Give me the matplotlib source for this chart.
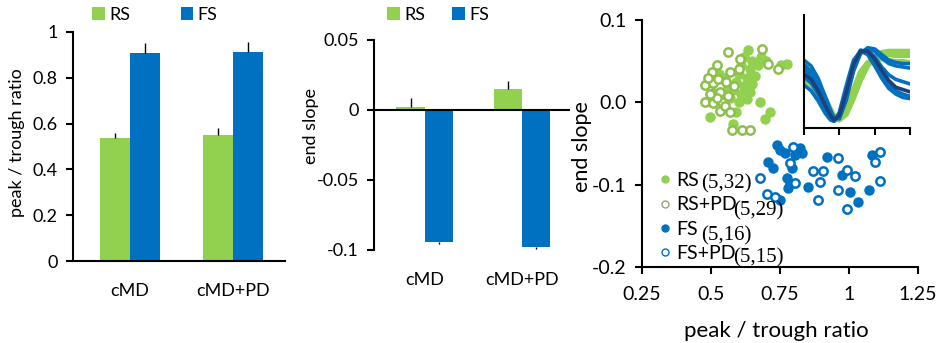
import numpy as np
import matplotlib
matplotlib.use('Agg')
import matplotlib.pyplot as plt
from matplotlib.lines import Line2D

plt.rcParams['font.family'] = ['Lato', 'DejaVu Sans']

GREEN = '#92d050'
BLUE = '#0070c0'

# ---- bar data ----
groups = ['cMD', 'cMD+PD']
ratio_rs = [0.537, 0.55]
ratio_rs_err = [0.024, 0.03]
ratio_fs = [0.908, 0.913]
ratio_fs_err = [0.044, 0.043]
slope_rs = [0.002, 0.015]
slope_rs_err = [0.0065, 0.006]
slope_fs = [-0.094, -0.098]
slope_fs_err = [0.0015, 0.001]

# ---- scatter data (peak/trough ratio, end slope) ----
rs_x = [0.634, 0.62, 0.65, 0.61, 0.64, 0.67, 0.60, 0.63, 0.66, 0.59, 0.62, 0.65, 0.58, 0.61, 0.64, 0.57,
        0.60, 0.63, 0.55, 0.56, 0.774, 0.755, 0.678, 0.714, 0.696, 0.496, 0.58, 0.59, 0.53, 0.68, 0.70, 0.545]
rs_y = [0.063, 0.055, 0.05, 0.045, 0.04, 0.045, 0.035, 0.03, 0.032, 0.025, 0.02, 0.022, 0.015, 0.01, 0.012, 0.005,
        0.0, 0.004, 0.03, 0.018, 0.047, 0.045, 0.0, -0.012, -0.02, -0.018, -0.026, -0.012, 0.035, 0.055, 0.05, 0.008]
rspd_x = [0.563, 0.684, 0.605, 0.743, 0.707, 0.502, 0.569, 0.478, 0.508, 0.508, 0.533, 0.478, 0.508, 0.54, 0.533,
          0.576, 0.612, 0.641, 0.52, 0.49, 0.555, 0.52, 0.56, 0.495, 0.55, 0.585, 0.60, 0.57, 0.525]
rspd_y = [0.061, 0.065, 0.053, 0.041, 0.047, 0.037, 0.037, 0.021, 0.024, 0.011, 0.012, 0.0, -0.001, 0.0, -0.01,
          -0.034, -0.034, -0.034, 0.045, 0.03, 0.025, 0.005, 0.008, 0.01, -0.005, 0.02, 0.04, -0.012, 0.028]
fs_x = [0.738, 0.75, 0.768, 0.822, 0.804, 0.829, 0.707, 0.725, 0.792, 0.919, 1.082, 0.973, 0.774, 0.786,
        0.851, 0.779, 1.004, 1.072, 0.75, 1.033]
fs_y = [-0.052, -0.058, -0.062, -0.056, -0.064, -0.062, -0.072, -0.08, -0.08, -0.066, -0.064, -0.088, -0.092,
        -0.098, -0.103, -0.104, -0.109, -0.107, -0.119, -0.121]
fspd_x = [0.797, 0.786, 0.87, 0.906, 0.96, 1.112, 1.094, 0.991, 1.022, 0.677, 0.804, 0.895, 0.96, 1.112,
          0.702, 0.732, 0.888, 0.991]
fspd_y = [-0.054, -0.074, -0.084, -0.084, -0.068, -0.06, -0.072, -0.082, -0.09, -0.092, -0.098, -0.097, -0.107,
          -0.095, -0.111, -0.115, -0.119, -0.129]
legend_labels = ['RS', 'RS+PD', 'FS', 'FS+PD']
n_labels = ['(5,32)', '(5,29)', '(5,16)', '(5,15)']

# ---- inset waveforms ----
wave_t = [0, 0.2, 0.4, 0.6, 0.75, 0.85, 1.0, 1.2, 1.4, 1.6, 1.8, 2.0, 2.2, 2.4, 2.6, 2.8, 3.0]
green_waves = [
    [0.55, 0.50, 0.40, 0.27, 0.17, 0.11, 0.07, 0.12, 0.26, 0.42, 0.55, 0.63, 0.67, 0.68, 0.68, 0.68, 0.68],
    [0.48, 0.43, 0.34, 0.22, 0.14, 0.09, 0.07, 0.14, 0.30, 0.46, 0.57, 0.63, 0.65, 0.65, 0.64, 0.64, 0.64],
    [0.42, 0.38, 0.29, 0.18, 0.11, 0.07, 0.08, 0.17, 0.34, 0.50, 0.58, 0.61, 0.61, 0.60, 0.59, 0.59, 0.58],
    [0.52, 0.47, 0.37, 0.25, 0.16, 0.10, 0.08, 0.15, 0.28, 0.43, 0.55, 0.62, 0.66, 0.66, 0.66, 0.65, 0.65],
]
blue_waves = [
    [0.60, 0.55, 0.44, 0.28, 0.16, 0.09, 0.08, 0.25, 0.50, 0.66, 0.70, 0.68, 0.62, 0.57, 0.55, 0.54, 0.53],
    [0.52, 0.47, 0.36, 0.22, 0.12, 0.07, 0.10, 0.30, 0.55, 0.68, 0.69, 0.63, 0.54, 0.47, 0.43, 0.41, 0.39],
    [0.45, 0.40, 0.30, 0.17, 0.09, 0.06, 0.12, 0.34, 0.58, 0.69, 0.67, 0.58, 0.47, 0.38, 0.33, 0.30, 0.28],
    [0.38, 0.33, 0.24, 0.13, 0.07, 0.06, 0.14, 0.38, 0.60, 0.68, 0.65, 0.55, 0.44, 0.35, 0.30, 0.27, 0.26],
    [0.56, 0.50, 0.40, 0.25, 0.14, 0.08, 0.09, 0.27, 0.52, 0.66, 0.71, 0.70, 0.65, 0.60, 0.58, 0.57, 0.57],
    [0.48, 0.43, 0.33, 0.20, 0.11, 0.07, 0.11, 0.32, 0.56, 0.68, 0.68, 0.61, 0.51, 0.42, 0.36, 0.34, 0.32],
]

fig = plt.figure(figsize=(9.4, 3.43), dpi=100)
W, H = 940, 343


def style(ax, size=13):
    for s in ['top', 'right']:
        ax.spines[s].set_visible(False)
    for s in ['left', 'bottom']:
        ax.spines[s].set_linewidth(1.5)
    ax.tick_params(axis='y', direction='out', length=5, width=1.5, labelsize=size, pad=6)


x = np.arange(len(groups))
w = 0.29
ekw = dict(ecolor='black', elinewidth=1, capsize=0)
zeros = np.zeros(len(groups))

# panel 1
ax1 = fig.add_axes([73 / W, 1 - 261 / H, 212 / W, 229 / H])
style(ax1)
ax1.bar(x - w / 2, ratio_rs, w, color=GREEN, yerr=[zeros, ratio_rs_err], error_kw=ekw, label='RS')
ax1.bar(x + w / 2, ratio_fs, w, color=BLUE, yerr=[zeros, ratio_fs_err], error_kw=ekw, label='FS')
ax1.set_xlim(-0.55, 1.5)
ax1.set_ylim(0, 1)
ax1.set_yticks([0, 0.2, 0.4, 0.6, 0.8, 1.0])
ax1.set_yticklabels(['0', '0.2', '0.4', '0.6', '0.8', '1'])
ax1.set_xticks(x)
ax1.set_xticklabels(groups)
ax1.tick_params(axis='x', length=0, labelsize=13, pad=16)
ax1.set_ylabel('peak / trough ratio', fontsize=13, va='center')
ax1.yaxis.set_label_coords(-0.264, 0.515)
ax1.legend(ncol=2, loc='center left', bbox_to_anchor=(92 / W, 1 - 15 / H), bbox_transform=fig.transFigure,
           frameon=False, fontsize=13, handlelength=0.7, handleheight=0.7, handletextpad=0.25,
           columnspacing=2.8, borderpad=0, borderaxespad=0)

# panel 2
ax2 = fig.add_axes([374 / W, 1 - 250 / H, 196 / W, 210 / H])
style(ax2)
ax2.spines['bottom'].set_visible(False)
ax2.bar(x - w / 2, slope_rs, w, color=GREEN, yerr=[zeros, slope_rs_err], error_kw=ekw, label='RS')
ax2.bar(x + w / 2, slope_fs, w, color=BLUE, yerr=[slope_fs_err, zeros], error_kw=ekw, label='FS')
ax2.axhline(0, color='black', lw=1.5, zorder=3)
ax2.set_xlim(-0.52, 1.49)
ax2.set_ylim(-0.1, 0.05)
ax2.set_yticks([-0.1, -0.05, 0, 0.05])
ax2.set_yticklabels(['-0.1', '-0.05', '0', '0.05'])
ax2.set_xticks(x)
ax2.set_xticklabels(groups)
ax2.tick_params(axis='x', length=0, labelsize=13, pad=16)
ax2.set_ylabel('end slope', fontsize=13, va='center')
ax2.yaxis.set_label_coords(-0.32, 0.59)
ax2.legend(ncol=2, loc='center left', bbox_to_anchor=(387 / W, 1 - 15 / H), bbox_transform=fig.transFigure,
           frameon=False, fontsize=13, handlelength=0.7, handleheight=0.7, handletextpad=0.25,
           columnspacing=1.5, borderpad=0, borderaxespad=0)

# panel 3
ax3 = fig.add_axes([642 / W, 1 - 267 / H, 276 / W, 247 / H])
style(ax3, 14)
ax3.tick_params(axis='x', direction='out', length=5, width=1.5, labelsize=14, pad=9)
ms = 6
ax3.plot(rs_x, rs_y, 'o', ms=ms, mfc=GREEN, mec=GREEN, mew=1.5)
ax3.plot(rspd_x, rspd_y, 'o', ms=ms, mfc='white', mec='#8cc04a', mew=1.8)
ax3.plot(fs_x, fs_y, 'o', ms=ms, mfc=BLUE, mec=BLUE, mew=1.5)
ax3.plot(fspd_x, fspd_y, 'o', ms=ms, mfc='white', mec=BLUE, mew=1.8)
ax3.set_xlim(0.25, 1.25)
ax3.set_ylim(-0.2, 0.1)
ax3.set_xticks([0.25, 0.5, 0.75, 1.0, 1.25])
ax3.set_xticklabels(['0.25', '0.5', '0.75', '1', '1.25'])
ax3.set_yticks([-0.2, -0.1, 0.0, 0.1])
ax3.set_yticklabels(['-0.2', '-0.1', '0.0', '0.1'])
ax3.set_xlabel('peak / trough ratio', fontsize=16, va='center')
ax3.xaxis.set_label_coords(0.488, -0.26)
ax3.set_ylabel('end slope', fontsize=15.5, va='center')
ax3.yaxis.set_label_coords(-0.218, 0.486)

handles = [
    Line2D([], [], ls='none', marker='o', ms=5, mfc=GREEN, mec=GREEN),
    Line2D([], [], ls='none', marker='o', ms=5, mfc='white', mec='#a0a080', mew=1),
    Line2D([], [], ls='none', marker='o', ms=5, mfc=BLUE, mec=BLUE),
    Line2D([], [], ls='none', marker='o', ms=5, mfc='white', mec=BLUE, mew=1),
]
ax3.legend(handles, legend_labels, loc='upper left', bbox_to_anchor=(659 / W, 1 - 172 / H),
           bbox_transform=fig.transFigure, frameon=False, fontsize=14, handlelength=0.6,
           handletextpad=0.3, labelspacing=0.38, borderpad=0, borderaxespad=0)
n_pos = [(701, 184), (733, 211), (701, 236), (733, 258)]
for lab, (px, py) in zip(n_labels, n_pos):
    fig.text(px / W, 1 - py / H, lab, family='Liberation Serif', fontsize=15, va='center', ha='left')

# inset
axi = fig.add_axes([804 / W, 1 - 128 / H, 106 / W, 113 / H])
axi.patch.set_alpha(0)
for s in ['top', 'right']:
    axi.spines[s].set_visible(False)
for s in ['left', 'bottom']:
    axi.spines[s].set_linewidth(1.5)
for wv in green_waves:
    axi.plot(wave_t, wv, color=GREEN, lw=3.5, solid_capstyle='round')
for i, wv in enumerate(blue_waves):
    axi.plot(wave_t, wv, color='#1f3f78' if i == 5 else BLUE, lw=2.6)
axi.set_xlim(0, 3)
axi.set_ylim(0, 1)
axi.set_xticks([0, 1, 2, 3])
axi.set_xticklabels([])
axi.set_yticks([])
axi.tick_params(axis='x', direction='out', length=5, width=1.5)

fig.savefig('out.png', dpi=100)
